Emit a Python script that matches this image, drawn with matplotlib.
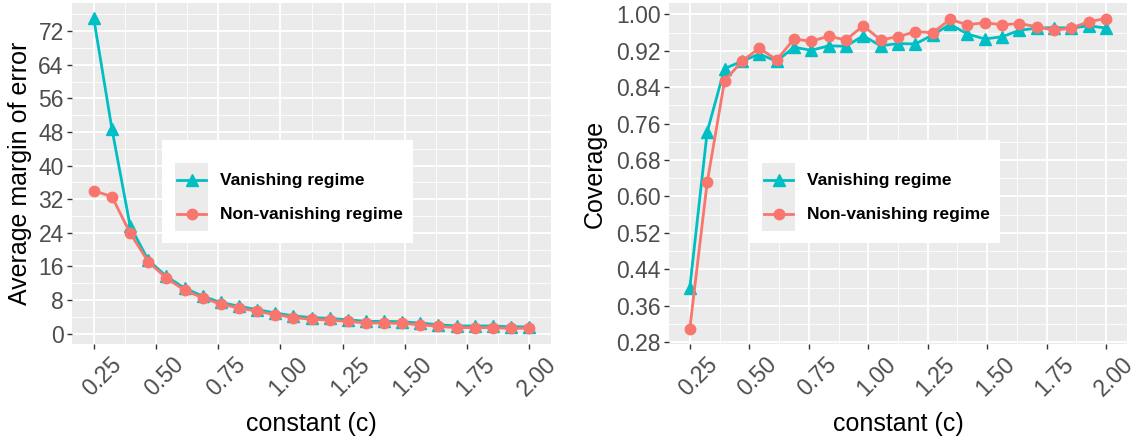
import numpy as np
import matplotlib
matplotlib.use("Agg")
import matplotlib.pyplot as plt
from matplotlib.patches import Rectangle
from matplotlib.lines import Line2D
from matplotlib.ticker import MultipleLocator, FixedLocator, FormatStrFormatter
from matplotlib.transforms import ScaledTranslation

plt.rcParams['font.family'] = ['Liberation Sans', 'DejaVu Sans']

# ---- data ----
c_vals = [0.250, 0.323, 0.396, 0.469, 0.542, 0.615, 0.688, 0.760, 0.833,
          0.906, 0.979, 1.052, 1.125, 1.198, 1.271, 1.344, 1.417, 1.490,
          1.563, 1.635, 1.708, 1.781, 1.854, 1.927, 2.000]

moe_vanishing = [75.0, 48.7, 25.6, 17.5, 13.6, 10.8, 8.9, 7.4, 6.5, 5.7, 4.9,
                 4.2, 3.8, 3.6, 3.3, 2.9, 2.9, 2.8, 2.5, 2.1, 1.8, 1.8, 1.8,
                 1.6, 1.6]
moe_nonvanishing = [34.0, 32.6, 23.9, 17.1, 13.2, 10.3, 8.5, 7.0, 6.1, 5.3, 4.5,
                    3.8, 3.4, 3.2, 2.9, 2.5, 2.5, 2.4, 2.1, 1.7, 1.4, 1.4, 1.4,
                    1.2, 1.3]

cov_vanishing = [0.400, 0.742, 0.881, 0.897, 0.913, 0.897, 0.928, 0.921, 0.931,
                 0.930, 0.953, 0.931, 0.936, 0.935, 0.955, 0.978, 0.957, 0.946,
                 0.951, 0.965, 0.970, 0.971, 0.970, 0.975, 0.970]
cov_nonvanishing = [0.310, 0.631, 0.854, 0.897, 0.926, 0.900, 0.946, 0.941, 0.952,
                    0.944, 0.975, 0.944, 0.951, 0.962, 0.960, 0.989, 0.977, 0.982,
                    0.977, 0.980, 0.973, 0.965, 0.970, 0.984, 0.991]

moe_ticks = [0, 8, 16, 24, 32, 40, 48, 56, 64, 72]
cov_ticks = [0.28, 0.36, 0.44, 0.52, 0.60, 0.68, 0.76, 0.84, 0.92, 1.00]

series_labels = ["Vanishing regime", "Non-vanishing regime"]
TEAL, RED = "#00BFC4", "#F8766D"

W, H = 1144, 442
fig = plt.figure(figsize=(W / 100, H / 100), dpi=100)

def fx(x): return x / W
def fy(y): return 1 - y / H

def style_ax(ax, yticks, yfmt, ylabel, label_x):
    ax.set_facecolor("#EBEBEB")
    for s in ax.spines.values():
        s.set_visible(False)
    ax.margins(x=0.05, y=0.05)
    ax.xaxis.set_major_locator(MultipleLocator(0.25))
    ax.xaxis.set_minor_locator(MultipleLocator(0.125))
    step = yticks[1] - yticks[0]
    ax.yaxis.set_major_locator(FixedLocator(yticks))
    minors = [t + step / 2 for t in [yticks[0] - step] + yticks]
    ax.yaxis.set_minor_locator(FixedLocator(minors))
    ax.xaxis.set_major_formatter(FormatStrFormatter("%.2f"))
    ax.yaxis.set_major_formatter(FormatStrFormatter(yfmt))
    ax.grid(which="major", color="white", linewidth=1.3)
    ax.grid(which="minor", color="white", linewidth=0.6)
    ax.set_axisbelow(True)
    ax.tick_params(which="major", length=3.5, width=1, color="#333333",
                   labelcolor="#4D4D4D", labelsize=16.5, pad=2.5)
    ax.tick_params(which="minor", length=0)
    off = ScaledTranslation(8 / 100, 0, fig.dpi_scale_trans)
    for lab in ax.get_xticklabels():
        lab.set_rotation(45)
        lab.set_ha("center")
        lab.set_va("top")
        lab.set_transform(lab.get_transform() + off)
    ax.set_xlabel("constant (c)", fontsize=18, color="black")
    ax.xaxis.set_label_coords(0.5, -0.2)
    ax.set_ylabel(ylabel, fontsize=18, color="black")
    ax.yaxis.set_label_coords(label_x, 0.5)

def draw_key(x0, y0):
    # white legend box with grey key cells, positioned in figure pixels
    fig.add_artist(Rectangle((fx(x0), fy(y0 + 103)), 251 / W, 103 / H,
                             transform=fig.transFigure, facecolor="white",
                             edgecolor="none", zorder=5))
    for i, (lab, col, mk, ms) in enumerate(zip(series_labels, [TEAL, RED],
                                               ["^", "o"], [9, 7.5])):
        ky = y0 + 23 + 34 * i
        fig.add_artist(Rectangle((fx(x0 + 13), fy(ky + 34)), 33 / W, 34 / H,
                                 transform=fig.transFigure, facecolor="#EBEBEB",
                                 edgecolor="none", zorder=6))
        cy = fy(ky + 17)
        fig.add_artist(Line2D([fx(x0 + 15), fx(x0 + 29.5), fx(x0 + 44)], [cy, cy, cy],
                              transform=fig.transFigure, color=col, linewidth=2,
                              marker=mk, markersize=ms, markevery=[1], zorder=7))
        fig.text(fx(x0 + 58), cy, lab, fontsize=12.5, fontweight="bold",
                 va="center", ha="left", color="black", zorder=7)

# ---- left panel: margin of error ----
ax1 = fig.add_axes([fx(72), fy(344), 479 / W, 341 / H])
ax1.plot(c_vals, moe_vanishing, color=TEAL, linewidth=2, marker="^", markersize=9)
ax1.plot(c_vals, moe_nonvanishing, color=RED, linewidth=2, marker="o", markersize=7.5)
style_ax(ax1, moe_ticks, "%d", "Average margin of error", -0.083)

# ---- right panel: coverage ----
ax2 = fig.add_axes([fx(669), fy(344), 458 / W, 341 / H])
ax2.plot(c_vals, cov_vanishing, color=TEAL, linewidth=2, marker="^", markersize=9)
ax2.plot(c_vals, cov_nonvanishing, color=RED, linewidth=2, marker="o", markersize=7.5)
style_ax(ax2, cov_ticks, "%.2f", "Coverage", -0.135)

draw_key(162, 140)
draw_key(749, 140)

fig.savefig("out.png", dpi=100)
